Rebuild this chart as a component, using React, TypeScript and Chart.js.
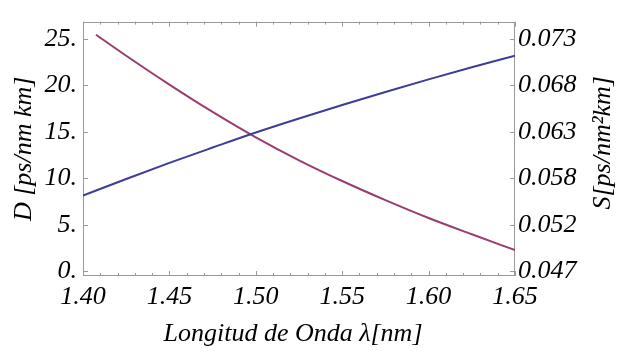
import React, { useEffect, useRef } from "react";
import { Chart, registerables } from "chart.js";

Chart.register(...registerables);

// Dispersion D [ps/nm km] vs wavelength
const wavelengthD = [1.4, 1.425, 1.45, 1.475, 1.5, 1.525, 1.55, 1.575, 1.6, 1.625, 1.65];
const dispersionD = [8.14, 9.93, 11.66, 13.31, 14.93, 16.44, 17.89, 19.29, 20.64, 21.94, 23.2];

// Dispersion slope S [ps/nm^2 km] vs wavelength
const wavelengthS = [1.4075, 1.425, 1.45, 1.475, 1.5, 1.525, 1.55, 1.575, 1.6, 1.625, 1.65];
const slopeS = [0.07392, 0.07154, 0.06828, 0.06519, 0.06232, 0.05973, 0.05739, 0.05523, 0.05321, 0.05137, 0.04959];

const xTickValues = [1.4, 1.45, 1.5, 1.55, 1.6, 1.65];
const xTickLabels = ["1.40", "1.45", "1.50", "1.55", "1.60", "1.65"];
const xMinorValues = [1.41, 1.42, 1.43, 1.44, 1.46, 1.47, 1.48, 1.49, 1.51, 1.52, 1.53, 1.54, 1.56, 1.57, 1.58, 1.59, 1.61, 1.62, 1.63, 1.64];

const dTickValues = [0, 5, 10, 15, 20, 25];
const dTickLabels = ["0.", "5.", "10.", "15.", "20.", "25."];

const sTickValues = [0.0472, 0.05245, 0.0577, 0.06295, 0.0682, 0.07345];
const sTickLabels = ["0.047", "0.052", "0.058", "0.063", "0.068", "0.073"];

const xTitle = "Longitud de Onda \u03bb[nm]";
const dTitle = "D [ps/nm km]";
const sTitle = "S[ps/nm\u00b2km]";

const FONT = "'Liberation Serif', 'Times New Roman', serif";
const FRAME = "#9a9a9a";

const framePlugin = {
  id: "mmaFrame",
  beforeDatasetsDraw(chart: any) {
    const { ctx, chartArea: a, scales } = chart;
    ctx.save();
    ctx.strokeStyle = FRAME;
    ctx.lineWidth = 1;
    ctx.strokeRect(Math.round(a.left) + 0.5, Math.round(a.top) + 0.5, Math.round(a.right - a.left) - 1, Math.round(a.bottom - a.top) - 1);
    ctx.beginPath();
    const x = scales.x;
    const tick = (px: number, len: number) => {
      const p = Math.round(px) + 0.5;
      ctx.moveTo(p, a.bottom);
      ctx.lineTo(p, a.bottom - len);
      ctx.moveTo(p, a.top);
      ctx.lineTo(p, a.top + len);
    };
    xTickValues.forEach((v) => tick(x.getPixelForValue(v), 5));
    xMinorValues.forEach((v) => tick(x.getPixelForValue(v), 3));
    dTickValues.forEach((v) => {
      const p = Math.round(scales.y.getPixelForValue(v)) + 0.5;
      ctx.moveTo(a.left, p);
      ctx.lineTo(a.left + 5, p);
    });
    sTickValues.forEach((v) => {
      const p = Math.round(scales.y2.getPixelForValue(v)) + 0.5;
      ctx.moveTo(a.right, p);
      ctx.lineTo(a.right - 5, p);
    });
    ctx.stroke();
    ctx.restore();
  },
  afterDraw(chart: any) {
    const { ctx, chartArea: a } = chart;
    ctx.save();
    ctx.fillStyle = "#000";
    ctx.font = `italic 26px ${FONT}`;
    ctx.textAlign = "center";
    ctx.textBaseline = "middle";
    ctx.fillText(xTitle, (a.left + a.right) / 2 - 6, 334);
    ctx.save();
    ctx.translate(24, (a.top + a.bottom) / 2);
    ctx.rotate(-Math.PI / 2);
    ctx.fillText(dTitle, 0, 0);
    ctx.restore();
    ctx.save();
    ctx.translate(603, (a.top + a.bottom) / 2 - 6);
    ctx.rotate(-Math.PI / 2);
    ctx.fillText(sTitle, 0, 0);
    ctx.restore();
    ctx.restore();
  },
};

export default function App() {
  const ref = useRef<HTMLCanvasElement | null>(null);
  useEffect(() => {
    if (!ref.current) return;
    const tickFont = { family: FONT, size: 26, style: "italic" as const };
    const chart = new Chart(ref.current, {
      type: "line",
      data: {
        datasets: [
          {
            label: "D",
            data: wavelengthD.map((x, i) => ({ x, y: dispersionD[i] })),
            borderColor: "#3d3d99",
            borderWidth: 2,
            pointRadius: 0,
            cubicInterpolationMode: "monotone",
            yAxisID: "y",
          },
          {
            label: "S",
            data: wavelengthS.map((x, i) => ({ x, y: slopeS[i] })),
            borderColor: "#993d71",
            borderWidth: 2,
            pointRadius: 0,
            cubicInterpolationMode: "monotone",
            yAxisID: "y2",
          },
        ],
      },
      options: {
        responsive: false,
        animation: false,
        events: [],
        layout: { padding: { top: 7, left: 0, right: 0, bottom: 0 } },
        plugins: { legend: { display: false }, tooltip: { enabled: false } },
        scales: {
          x: {
            type: "linear",
            min: 1.4,
            max: 1.65,
            afterBuildTicks: (s: any) => { s.ticks = xTickValues.map((value) => ({ value })); },
            afterFit: (s: any) => { s.height = 75; },
            grid: { display: false, drawTicks: false },
            border: { display: false },
            ticks: {
              font: tickFont,
              color: "#000",
              padding: 6,
              maxRotation: 0,
              autoSkip: false,
              callback: (_v: any, i: number) => xTickLabels[i],
            },
          },
          y: {
            type: "linear",
            position: "left",
            min: -0.51,
            max: 26.86,
            afterBuildTicks: (s: any) => { s.ticks = dTickValues.map((value) => ({ value })); },
            afterFit: (s: any) => { s.width = 83; },
            grid: { display: false, drawTicks: false },
            border: { display: false },
            ticks: {
              font: tickFont,
              color: "#000",
              padding: 6,
              autoSkip: false,
              callback: (_v: any, i: number) => dTickLabels[i],
            },
          },
          y2: {
            type: "linear",
            position: "right",
            min: 0.04666,
            max: 0.0754,
            afterBuildTicks: (s: any) => { s.ticks = sTickValues.map((value) => ({ value })); },
            afterFit: (s: any) => { s.width = 104; },
            grid: { display: false, drawTicks: false },
            border: { display: false },
            ticks: {
              font: tickFont,
              color: "#000",
              padding: 3,
              autoSkip: false,
              callback: (_v: any, i: number) => sTickLabels[i],
            },
          },
        },
      },
      plugins: [framePlugin],
    } as any);
    return () => chart.destroy();
  }, []);
  return (
    <div style={{ position: "fixed", left: 0, top: 0, width: 619, height: 351, background: "#fff" }}>
      <canvas ref={ref} width={619} height={351} style={{ display: "block" }} />
    </div>
  );
}
